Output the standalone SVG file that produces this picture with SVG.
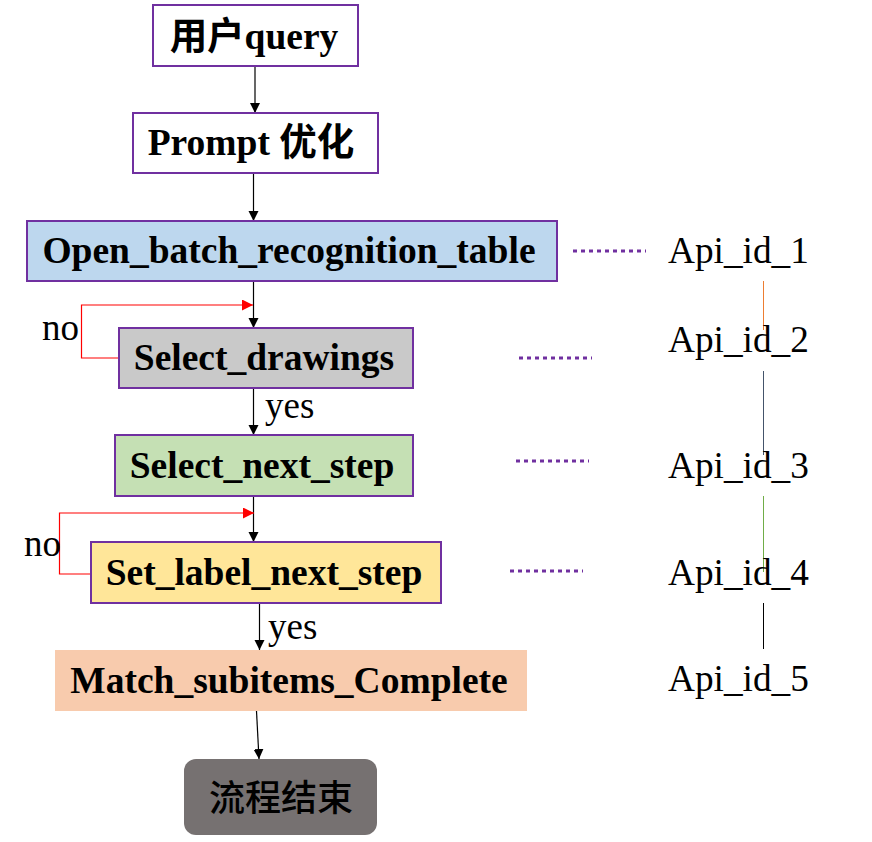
<svg xmlns="http://www.w3.org/2000/svg" width="872" height="842" viewBox="0 0 872 842">
<style>
.box{stroke:#7030A0;stroke-width:2}
.t{font-family:"Liberation Serif","Noto Sans CJK SC",serif;font-size:37.5px;font-weight:bold;fill:#000;text-anchor:middle}
.lbl{font-family:"Liberation Serif",serif;font-size:37px;fill:#000}
.api{font-family:"Liberation Serif",serif;font-size:37.3px;fill:#000}
.cn{font-family:"Noto Sans CJK SC",sans-serif;font-size:36px;font-weight:500;fill:#000;text-anchor:middle}
.arr{stroke:#000;stroke-width:1.2;fill:none;marker-end:url(#ah)}
.red{stroke:#FF0000;stroke-width:1.2;fill:none;marker-end:url(#rh)}
.dot{stroke:#7030A0;stroke-width:3;stroke-dasharray:4 4;fill:none}
</style>
<defs>
<marker id="ah" viewBox="0 0 10 10" refX="10" refY="5" markerWidth="10" markerHeight="11" orient="auto" markerUnits="userSpaceOnUse">
<path d="M0,0 L10,5 L0,10 z" fill="#000"/>
</marker>
<marker id="rh" viewBox="0 0 10 10" refX="10" refY="5" markerWidth="12" markerHeight="11" orient="auto" markerUnits="userSpaceOnUse">
<path d="M0,0 L10,5 L0,10 z" fill="#FF0000"/>
</marker>
</defs>
<rect width="872" height="842" fill="#fff"/>
<g id="connectors">
<line class="arr" x1="255" y1="66" x2="255" y2="113"/>
<line class="arr" x1="253.5" y1="173" x2="253.5" y2="221"/>
<line class="arr" x1="253.5" y1="281" x2="253.5" y2="328"/>
<line class="arr" x1="253.5" y1="388" x2="253.5" y2="435"/>
<line class="arr" x1="253.5" y1="496" x2="253.5" y2="542"/>
<line class="arr" x1="259.5" y1="603" x2="259.5" y2="650"/>
<line class="arr" x1="256.5" y1="711" x2="259" y2="759"/>
<polyline class="red" points="119,358 81.5,358 81.5,305 253,305"/>
<polyline class="red" points="91,574 59.5,574 59.5,513 254,513"/>
<line class="dot" x1="573" y1="251" x2="646" y2="251"/>
<line class="dot" x1="519" y1="358" x2="592" y2="358"/>
<line class="dot" x1="516" y1="461" x2="589" y2="461"/>
<line class="dot" x1="510" y1="571" x2="583" y2="571"/>
<line x1="763.5" y1="281" x2="763.5" y2="330" stroke="#ED7D31" stroke-width="1"/>
<line x1="763.5" y1="371" x2="763.5" y2="455" stroke="#44546A" stroke-width="1"/>
<line x1="763.5" y1="496" x2="763.5" y2="572" stroke="#70AD47" stroke-width="1"/>
<line x1="763.5" y1="603" x2="763.5" y2="649" stroke="#000" stroke-width="1"/>
<text class="lbl" x="42" y="340">no</text>
<text class="lbl" x="24" y="556">no</text>
<text class="lbl" x="265" y="418">yes</text>
<text class="lbl" x="268" y="639">yes</text>
</g>
<g id="n_query">
<rect class="box" x="153" y="5" width="205" height="61" fill="#fff"/>
<text class="t" x="254" y="49">用户query</text>
</g>
<g id="n_prompt">
<rect class="box" x="133" y="113" width="245" height="60" fill="#fff"/>
<text class="t" x="251" y="155">Prompt 优化</text>
</g>
<g id="n_open">
<rect class="box" x="27" y="221" width="530" height="60" fill="#BDD7EE"/>
<text class="t" x="289" y="263">Open_batch_recognition_table</text>
</g>
<g id="n_select_drawings">
<rect class="box" x="119" y="328" width="294" height="60" fill="#C9C9C9"/>
<text class="t" x="264" y="370">Select_drawings</text>
</g>
<g id="n_select_next">
<rect class="box" x="115" y="435" width="298" height="61" fill="#C5E0B4"/>
<text class="t" x="262" y="478">Select_next_step</text>
</g>
<g id="n_set_label">
<rect class="box" x="91" y="542" width="350" height="61" fill="#FFE699"/>
<text class="t" x="264" y="585">Set_label_next_step</text>
</g>
<g id="n_match">
<rect x="55" y="650" width="472" height="61" fill="#F8CBAD"/>
<text class="t" x="289" y="693">Match_subitems_Complete</text>
</g>
<g id="n_end">
<rect x="184" y="759" width="193" height="76" rx="12" fill="#767171"/>
<text class="cn" x="281" y="811">流程结束</text>
</g>
<g id="api_labels">
<text class="api" x="668" y="263">Api_id_1</text>
<text class="api" x="668" y="352">Api_id_2</text>
<text class="api" x="668" y="478">Api_id_3</text>
<text class="api" x="668" y="585">Api_id_4</text>
<text class="api" x="668" y="691">Api_id_5</text>
</g>
</svg>
